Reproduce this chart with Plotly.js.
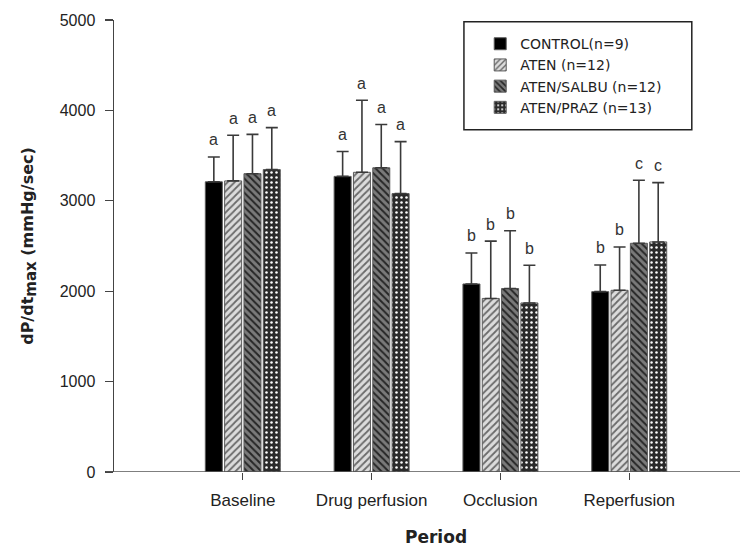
<!DOCTYPE html>
<html>
<head>
<meta charset="utf-8">
<script src="https://cdn.plot.ly/plotly-3.0.1.min.js"></script>
<style>html,body{margin:0;padding:0;background:#fff;}#chart{width:742px;height:548px;}</style>
</head>
<body>
<div id="chart"></div>
<script>
const categories = ["Baseline", "Drug perfusion", "Occlusion", "Reperfusion"];
const seriesNames = ["CONTROL(n=9)", "ATEN (n=12)", "ATEN/SALBU (n=12)", "ATEN/PRAZ (n=13)"];
const controlMean = [3210, 3270, 2080, 1995];
const controlErr = [275, 276, 343, 295];
const atenMean = [3220, 3315, 1920, 2010];
const atenErr = [505, 797, 634, 479];
const salbuMean = [3300, 3365, 2030, 2530];
const salbuErr = [435, 479, 638, 697];
const prazMean = [3345, 3080, 1870, 2545];
const prazErr = [464, 575, 417, 656];
const controlLetters = ["a", "a", "b", "b"];
const atenLetters = ["a", "a", "b", "b"];
const salbuLetters = ["a", "a", "b", "c"];
const prazLetters = ["a", "a", "b", "c"];

const means = [controlMean, atenMean, salbuMean, prazMean];
const errs = [controlErr, atenErr, salbuErr, prazErr];
const letters = [controlLetters, atenLetters, salbuLetters, prazLetters];
const patterns = [
  {shape: "", bgcolor: "#000000", fgcolor: "#000000"},
  {shape: "/", bgcolor: "#dcdcdc", fgcolor: "#6a6a6a", size: 5, solidity: 0.35, fillmode: "replace"},
  {shape: "\\", bgcolor: "#7a7a7a", fgcolor: "#262626", size: 5, solidity: 0.4, fillmode: "replace"},
  {shape: ".", bgcolor: "#2a2a2a", fgcolor: "#ffffff", size: 5, solidity: 0.2, fillmode: "replace"}
];
const fills = ["#000000", "#dcdcdc", "#7a7a7a", "#2a2a2a"];

const FONT = "Liberation Sans, Arial, sans-serif";
const WIDE = "DejaVu Sans, sans-serif";
const bargap = 0.4;

const traces = means.map((m, k) => ({
  type: "bar",
  name: seriesNames[k],
  x: categories,
  y: m,
  marker: {
    color: fills[k],
    pattern: patterns[k],
    line: {color: "#5a5a5a", width: 1}
  },
  error_y: {type: "data", array: errs[k], arrayminus: errs[k].map(() => 0), symmetric: false,
            color: "#3a3a3a", thickness: 1.6, width: 6},
  hoverinfo: "skip"
}));

const slot = (1 - bargap) / means.length;
const annotations = [];
means.forEach((m, k) => {
  m.forEach((v, i) => {
    annotations.push({
      x: i + (k - (means.length - 1) / 2) * slot,
      y: v + errs[k][i],
      xref: "x", yref: "y",
      text: letters[k][i],
      showarrow: false,
      yanchor: "middle",
      yshift: 17,
      font: {family: FONT, size: 16, color: "#333"}
    });
  });
});
annotations.push({
  x: (categories.length - 1) / 2, y: 0, xref: "x", yref: "paper",
  yshift: -65, yanchor: "middle",
  text: "<b>Period</b>", showarrow: false,
  font: {family: WIDE, size: 17, color: "#222"}
});

const layout = {
  width: 742, height: 548,
  margin: {l: 114, r: 2, t: 20, b: 76},
  paper_bgcolor: "#fff", plot_bgcolor: "#fff",
  barmode: "group", bargap: bargap, bargroupgap: 0.12,
  showlegend: true,
  legend: {
    x: 0.585, y: 0.982, xanchor: "left", yanchor: "top",
    bgcolor: "rgba(0,0,0,0)", borderwidth: 0,
    font: {family: WIDE, size: 14, color: "#222"},
    tracegroupgap: 0
  },
  xaxis: {
    type: "category",
    range: [-1, 3.86],
    showline: false, showgrid: false, zeroline: false,
    ticks: "outside", ticklen: 7, tickwidth: 1.2, tickcolor: "#444",
    ticklabelstandoff: 6,
    tickfont: {family: FONT, size: 17, color: "#222"}
  },
  yaxis: {
    range: [0, 5000],
    tickvals: [0, 1000, 2000, 3000, 4000, 5000],
    showline: true, linecolor: "#444", linewidth: 1.5,
    showgrid: false, zeroline: false,
    ticks: "outside", ticklen: 8, tickwidth: 1.2, tickcolor: "#444",
    ticklabelstandoff: 6,
    tickfont: {family: FONT, size: 16, color: "#222"},
    title: {text: "<b>dP/dt<sub><span style=\"font-size:15px\">max</span></sub> (mmHg/sec)</b>", standoff: 22,
            font: {family: WIDE, size: 16, color: "#222"}}
  },
  annotations: annotations,
  shapes: [
    {type: "line", xref: "paper", yref: "y", x0: -0.013, x1: 1, y0: 0, y1: 0,
     line: {color: "#555", width: 1.5}},
    {type: "rect", xref: "paper", yref: "paper", x0: 0.559, x1: 0.923, y0: 0.757, y1: 0.996,
     line: {color: "#222", width: 1.5}, fillcolor: "rgba(0,0,0,0)"}
  ]
};

Plotly.newPlot("chart", traces, layout, {displayModeBar: false, staticPlot: true});
</script>
</body>
</html>
